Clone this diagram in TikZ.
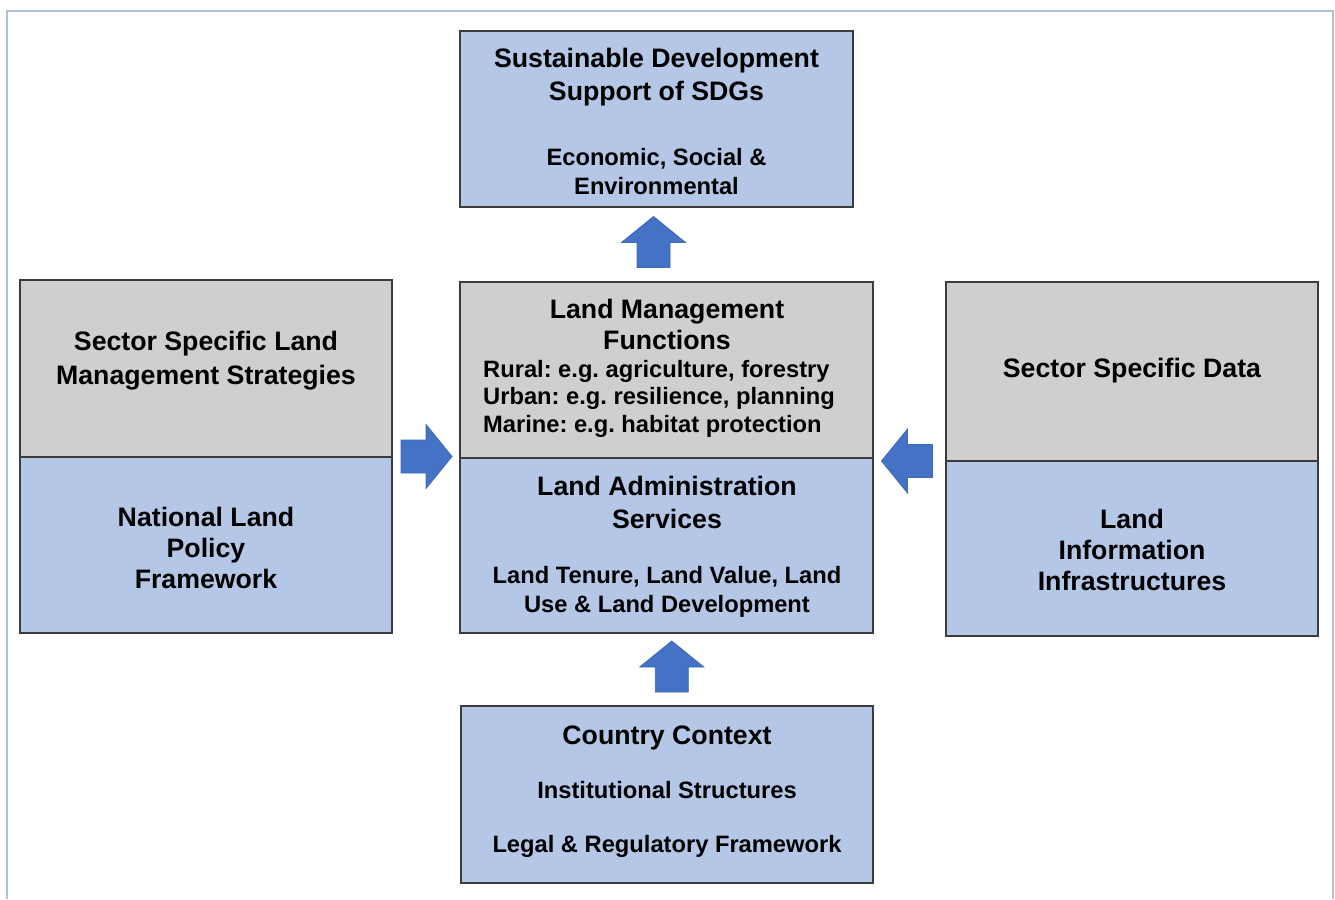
\documentclass[tikz,border=0pt]{standalone}
\usepackage{fontspec}
\setmainfont{Liberation Sans}
\frenchspacing
\usetikzlibrary{calc}
\definecolor{boxblue}{HTML}{B4C7E7}
\definecolor{boxgray}{HTML}{D0CECE}
\definecolor{arrowblue}{HTML}{4472C4}
\definecolor{arrowedge}{HTML}{3F68B5}
\definecolor{framecol}{HTML}{AFC0DC}
\definecolor{edgecol}{HTML}{3C3C3C}
\begin{document}
\begin{tikzpicture}[x=1pt,y=1pt,
  box/.style={draw=edgecol, line width=1.6pt, anchor=north west, inner sep=0pt, outer sep=0pt},
  bluebox/.style={box, fill=boxblue},
  graybox/.style={box, fill=boxgray},
  ttl/.style={font=\bfseries\fontsize{26.7}{31}\selectfont, anchor=base, inner sep=0pt},
  sml/.style={font=\bfseries\fontsize{23.7}{28}\selectfont, anchor=base, inner sep=0pt},
  barrow/.pic={\filldraw[fill=arrowblue, draw=arrowedge, line width=0.8pt]
    (-25,-16.5) -- (0,-16.5) -- (0,-32) -- (26,0) -- (0,32) -- (0,16.5) -- (-25,16.5) -- cycle;}
]
\useasboundingbox (0,0) rectangle (1335,-899);
\draw[framecol, line width=1.5pt] (7,-899) -- (7,-11) -- (1333,-11) -- (1333,-899);

% boxes
\node[bluebox, minimum width=393pt, minimum height=176pt] (sd)  at (460,-31)  {};
\node[graybox, minimum width=413pt, minimum height=176pt] (lmf) at (460,-282) {};
\node[bluebox, minimum width=413pt, minimum height=175pt] (las) at (460,-458) {};
\node[graybox, minimum width=372pt, minimum height=177pt] (ssl) at (20,-280)  {};
\node[bluebox, minimum width=372pt, minimum height=176pt] (nlp) at (20,-457)  {};
\node[graybox, minimum width=372pt, minimum height=179pt] (ssd) at (946,-282) {};
\node[bluebox, minimum width=372pt, minimum height=175pt] (lii) at (946,-461) {};
\node[bluebox, minimum width=412pt, minimum height=177pt] (cc)  at (461,-706) {};

% block arrows
\pic[rotate=90]  at ($(sd.south)!0.5!(lmf.north)+(-8,2)$) {barrow};
\pic             at ($(ssl.south east)!0.5!(lmf.south west)+(0,1)$) {barrow};
\pic[rotate=180] at ($(lmf.south east)!0.5!(ssd.south west)+(-2,-1.5)$) {barrow};
\pic[rotate=90]  at ($(las.south)!0.5!(cc.north)+(5,2.5)$) {barrow};

% top box
\node[ttl] (sd1) at (656.5,-67.5) {Sustainable Development};
\node[ttl] (sd2) at (656.5,-100.5) {Support of SDGs};
\node[sml] (sd3) at (656.5,-165.5) {Economic, Social \&};
\node[sml] (sd4) at (656.5,-194.5) {Environmental};

% land management functions
\node[ttl] (lm1) at (667,-318.5) {Land Management};
\node[ttl] (lm2) at (667,-349.5) {Functions};
\node[sml, anchor=base west] (lm3) at (483,-377.5) {Rural: e.g. agriculture, forestry};
\node[sml, anchor=base west] (lm4) at (483,-404.5) {Urban: e.g. resilience, planning};
\node[sml, anchor=base west] (lm5) at (483,-432.5) {Marine: e.g. habitat protection};

% land administration services
\node[ttl] (la1) at (667,-495.5) {Land Administration};
\node[ttl] (la2) at (667,-528.5) {Services};
\node[sml] (la3) at (667,-583.5) {Land Tenure, Land Value, Land};
\node[sml] (la4) at (667,-612.5) {Use \& Land Development};

% left
\node[ttl] (sl1) at (206,-350.5) {Sector Specific Land};
\node[ttl] (sl2) at (206,-384.5) {Management Strategies};
\node[ttl] (np1) at (206,-526.5) {National Land};
\node[ttl] (np2) at (206,-557.5) {Policy};
\node[ttl] (np3) at (206,-588.5) {Framework};

% right
\node[ttl] (sd5) at (1132,-377.5) {Sector Specific Data};
\node[ttl] (li1) at (1132,-528.5) {Land};
\node[ttl] (li2) at (1132,-559.5) {Information};
\node[ttl] (li3) at (1132,-590.5) {Infrastructures};

% bottom
\node[ttl] (cc1) at (667,-744.5) {Country Context};
\node[sml] (cc2) at (667,-798.5) {Institutional Structures};
\node[sml] (cc3) at (667,-852.5) {Legal \& Regulatory Framework};
\end{tikzpicture}
\end{document}
